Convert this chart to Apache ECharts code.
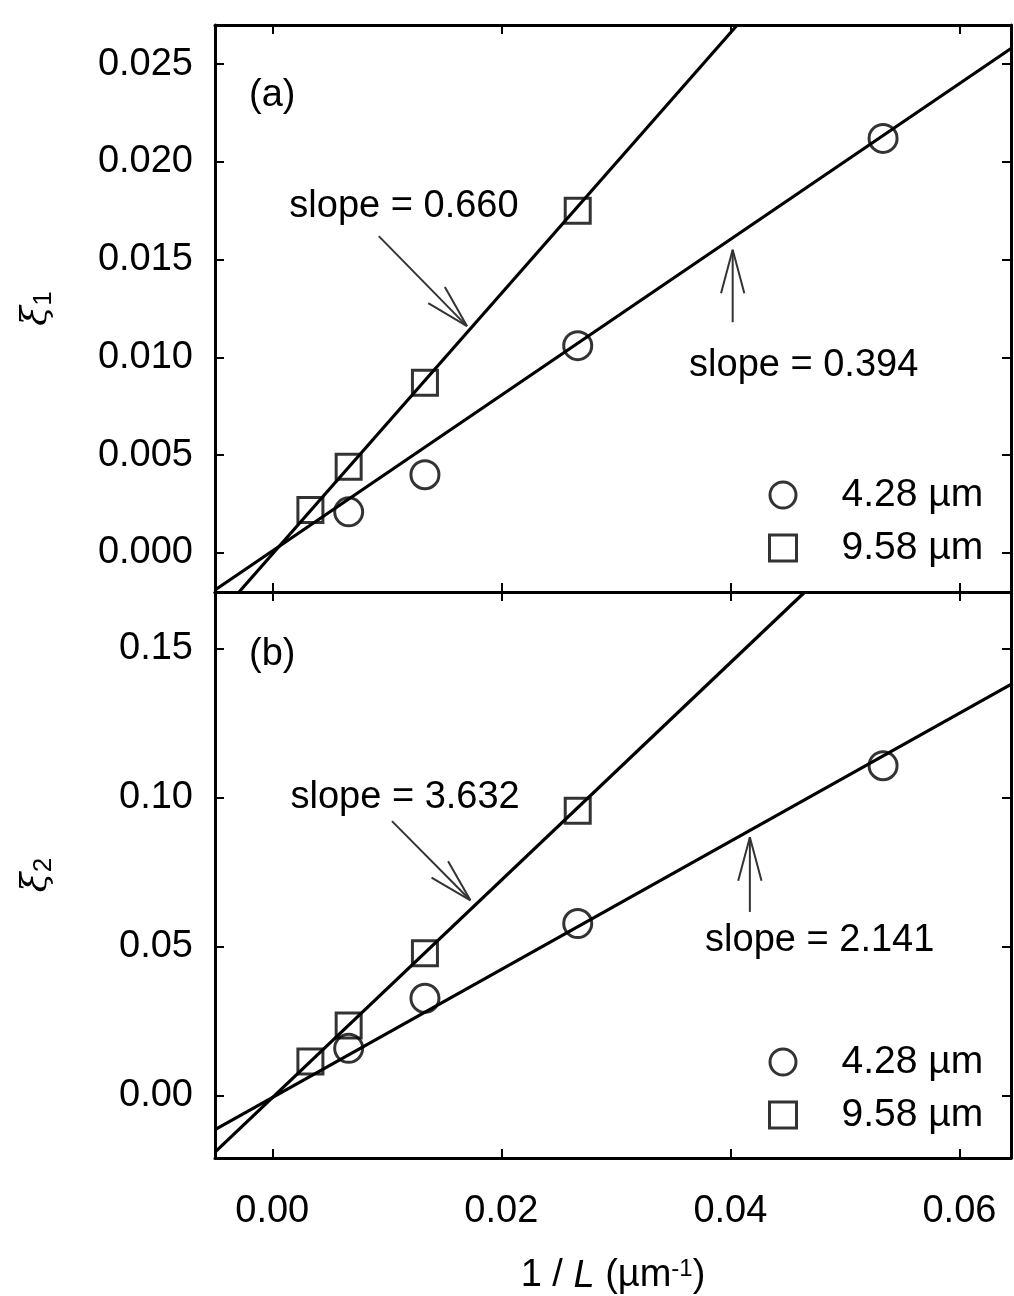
<!DOCTYPE html>
<html>
<head>
<meta charset="utf-8">
<script src="https://cdn.jsdelivr.net/npm/echarts@6/dist/echarts.min.js"></script>
<style>
html, body { margin: 0; padding: 0; background: #fff; }
#chart { width: 1014px; height: 1296px; }
</style>
</head>
<body>
<div id="chart"></div>
<script>
// 1/L (µm^-1)
var invL428 = [0.00667, 0.01333, 0.02667, 0.05333];
var invL958 = [0.00333, 0.00667, 0.01333, 0.02667];
// (a) xi1
var xi1_428 = [0.0021, 0.0040, 0.0106, 0.0212];
var xi1_958 = [0.0022, 0.0044, 0.0087, 0.0175];
// (b) xi2
var xi2_428 = [0.0158, 0.0326, 0.0577, 0.1107];
var xi2_958 = [0.0114, 0.0235, 0.0477, 0.0956];
// 拟合直线 (两端点)
var fit1_428 = [[-0.005, -0.0019], [0.0645, 0.0258]];
var fit1_958 = [[-0.0029, -0.002], [0.0406, 0.027]];
var fit2_428 = [[-0.005, -0.0115], [0.0645, 0.138]];
var fit2_958 = [[-0.005, -0.019], [0.0465, 0.169]];
// 刻度
var xTicks = [0, 0.02, 0.04, 0.06];
var y1Ticks = [0, 0.005, 0.01, 0.015, 0.02, 0.025];
var y2Ticks = [0, 0.05, 0.1, 0.15];
var legendNames = ['4.28 µm', '9.58 µm'];

var FONT = 'Liberation Sans';

function zip(xs, ys) {
    return xs.map(function(x, i) { return [x, ys[i]]; });
}

function xAx(gridIndex, pos, showLabel) {
    return {
        type: 'value',
        gridIndex: gridIndex,
        position: pos,
        min: -0.005,
        max: 0.0645,
        axisLine: { show: true, onZero: false, lineStyle: { color: '#000', width: 3 } },
        axisTick: { show: true, inside: true, length: 9, customValues: xTicks, lineStyle: { color: '#000', width: 2 } },
        axisLabel: {
            show: showLabel, customValues: xTicks, margin: 35,
            color: '#000', fontFamily: FONT, fontSize: 38,
            formatter: function(v) { return v.toFixed(2); }
        },
        splitLine: { show: false },
        name: showLabel ? '1 / {it|L} (µm{sup|-1})' : '',
        nameLocation: 'middle',
        nameGap: 99,
        nameTextStyle: {
            color: '#000', fontFamily: FONT, fontSize: 38,
            rich: {
                it: { fontFamily: FONT, fontSize: 38, fontStyle: 'italic', color: '#000' },
                sup: { fontFamily: FONT, fontSize: 24, color: '#000', verticalAlign: 'top', lineHeight: 20 }
            }
        }
    };
}

function yAx(gridIndex, pos, min, max, ticks, digits, name) {
    return {
        type: 'value',
        gridIndex: gridIndex,
        position: pos,
        min: min,
        max: max,
        axisLine: { show: true, onZero: false, lineStyle: { color: '#000', width: 3 } },
        axisTick: { show: true, inside: true, length: 9, customValues: ticks, lineStyle: { color: '#000', width: 2 } },
        axisLabel: {
            show: pos === 'left', customValues: ticks, margin: 22,
            color: '#000', fontFamily: FONT, fontSize: 38,
            formatter: function(v) { return v.toFixed(digits); }
        },
        splitLine: { show: false },
        name: pos === 'left' ? name : '',
        nameLocation: 'middle',
        nameRotate: 90,
        nameGap: 158,
        nameTextStyle: {
            color: '#000',
            rich: {
                xi: { fontFamily: 'DejaVu Serif', fontSize: 36, fontStyle: 'italic', color: '#000', lineHeight: 40 },
                sub: { fontFamily: FONT, fontSize: 26, color: '#000', verticalAlign: 'bottom', lineHeight: 20 }
            }
        }
    };
}

var hollow = { color: 'rgba(0,0,0,0)', borderColor: '#000', borderWidth: 3 };
var fitStyle = { color: '#000', width: 3.2 };

function pts(name, xi, yi, data, symbol, size) {
    return {
        name: name, type: 'scatter', xAxisIndex: xi, yAxisIndex: yi,
        symbol: symbol, symbolSize: size, itemStyle: hollow, z: 5,
        data: data
    };
}
function fit(xi, yi, data) {
    return {
        type: 'line', xAxisIndex: xi, yAxisIndex: yi, showSymbol: false,
        lineStyle: fitStyle, itemStyle: { color: '#000' }, clip: true,
        data: data
    };
}

function legendAt(top) {
    return {
        left: 763, top: top, orient: 'vertical',
        itemWidth: 27, itemHeight: 26, itemGap: 13, selectedMode: false,
        itemStyle: { color: 'rgba(0,0,0,0)', borderColor: '#000', borderWidth: 3 },
        textStyle: { color: '#000', fontFamily: FONT, fontSize: 39, lineHeight: 40, padding: [0, 0, 0, 40] },
        data: [{ name: legendNames[0], icon: 'circle' }, { name: legendNames[1], icon: 'rect' }]
    };
}

var chart = echarts.init(document.getElementById('chart'));
chart.setOption({
    animation: false,
    backgroundColor: '#fff',
    grid: [
        { left: 215, top: 25, width: 796, height: 567 },
        { left: 215, top: 592, width: 796, height: 568 }
    ],
    xAxis: [
        xAx(0, 'bottom', false),
        xAx(0, 'top', false),
        xAx(1, 'bottom', true),
        xAx(1, 'top', false)
    ],
    yAxis: [
        yAx(0, 'left', -0.002, 0.027, y1Ticks, 3, '{xi|ξ}{sub|1}'),
        yAx(0, 'right', -0.002, 0.027, y1Ticks, 3, ''),
        yAx(1, 'left', -0.021, 0.169, y2Ticks, 2, '{xi|ξ}{sub|2}'),
        yAx(1, 'right', -0.021, 0.169, y2Ticks, 2, '')
    ],
    legend: [legendAt(470), legendAt(1037)],
    series: [
        fit(0, 0, fit1_428),
        fit(0, 0, fit1_958),
        pts(legendNames[0], 0, 0, zip(invL428, xi1_428), 'circle', 28),
        pts(legendNames[1], 0, 0, zip(invL958, xi1_958), 'rect', 25),
        fit(2, 2, fit2_428),
        fit(2, 2, fit2_958),
        pts(legendNames[0], 2, 2, zip(invL428, xi2_428), 'circle', 28),
        pts(legendNames[1], 2, 2, zip(invL958, xi2_958), 'rect', 25)
    ]
});

// 注释: 斜率文字和箭头 (数据坐标)
var notes = [
    { axis: 0, text: 'slope = 0.660', at: [0.0115, 0.0177], tail: [0.0093, 0.0162], head: [0.0170, 0.0116] },
    { axis: 0, text: 'slope = 0.394', at: [0.0464, 0.0096], tail: [0.0402, 0.0118], head: [0.0402, 0.0155] },
    { axis: 2, text: 'slope = 3.632', at: [0.0116, 0.1001], tail: [0.01045, 0.0921], head: [0.0173, 0.0655] },
    { axis: 2, text: 'slope = 2.141', at: [0.0478, 0.0519], tail: [0.0417, 0.0616], head: [0.0417, 0.0867] }
];
var tags = [
    { axis: 0, text: '(a)', at: [0.0, 0.0234] },
    { axis: 2, text: '(b)', at: [0.0, 0.148] }
];

function px(axis, p) {
    return chart.convertToPixel({ xAxisIndex: axis, yAxisIndex: axis }, p);
}

var graphics = [];
notes.concat(tags).forEach(function(n) {
    var c = px(n.axis, n.at);
    graphics.push({
        type: 'text', x: c[0], y: c[1],
        style: { text: n.text, fill: '#000', font: '38px "' + FONT + '"', textAlign: 'center', textVerticalAlign: 'middle' }
    });
    if (!n.tail) return;
    var t = px(n.axis, n.tail), h = px(n.axis, n.head);
    var ang = Math.atan2(t[1] - h[1], t[0] - h[0]);
    var len = 45, spread = 15 * Math.PI / 180;
    var arrowStyle = { stroke: '#333', lineWidth: 2 };
    graphics.push({ type: 'line', shape: { x1: t[0], y1: t[1], x2: h[0], y2: h[1] }, style: arrowStyle });
    [-spread, spread].forEach(function(s) {
        graphics.push({
            type: 'line',
            shape: { x1: h[0], y1: h[1], x2: h[0] + len * Math.cos(ang + s), y2: h[1] + len * Math.sin(ang + s) },
            style: arrowStyle
        });
    });
});
chart.setOption({ graphic: graphics });
</script>
</body>
</html>
